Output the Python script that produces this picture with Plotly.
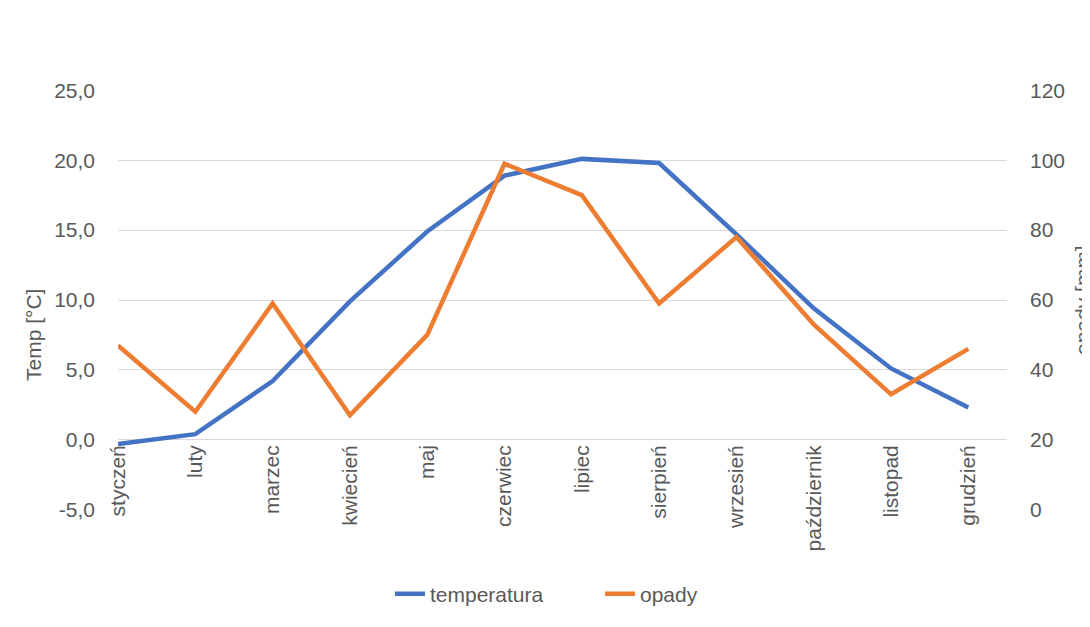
import plotly.graph_objects as go

months = ["styczeń", "luty", "marzec", "kwiecień", "maj", "czerwiec", "lipiec",
          "sierpień", "wrzesień", "październik", "listopad", "grudzień"]
temperatura = [-0.3, 0.4, 4.2, 9.9, 14.9, 18.9, 20.1, 19.8, 14.7, 9.4, 5.1, 2.3]
opady = [47, 28, 59, 27, 50, 99, 90, 59, 78, 53, 33, 46]
temp_ticks = [-5, 0, 5, 10, 15, 20, 25]
temp_ticktext = ["-5,0", "0,0", "5,0", "10,0", "15,0", "20,0", "25,0"]
opady_ticks = [0, 20, 40, 60, 80, 100, 120]

TXT = "#595959"
FONT = "Liberation Sans"
W, H = 1090, 627
OFF = 8  # page body margin
L, T = 118 - OFF, 90 - OFF
R, B = W - (1007 - OFF), H - (510 - OFF)
PW, PH = W - L - R, H - T - B


def px(xs):
    return (xs - OFF - L) / PW


def py(ys):
    return (T + PH - (ys - OFF)) / PH


fig = go.Figure()
fig.add_trace(go.Scatter(x=months, y=temperatura, name="temperatura", mode="lines",
                         line=dict(color="#4472C4", width=4.5), yaxis="y"))
fig.add_trace(go.Scatter(x=months, y=opady, name="opady", mode="lines",
                         line=dict(color="#ED7D31", width=4.5), yaxis="y2"))

fig.update_layout(
    width=W, height=H,
    margin=dict(l=L, r=R, t=T, b=B, autoexpand=False),
    paper_bgcolor="white", plot_bgcolor="white",
    separators=", ",
    font=dict(family=FONT, size=21, color=TXT),
    showlegend=True,
    legend=dict(orientation="h", x=px(600), xref="paper", xanchor="center",
                y=py(594), yanchor="middle", entrywidth=165, entrywidthmode="pixels",
                font=dict(size=21, color=TXT)),
    xaxis=dict(type="category", range=[0, 11.5], showgrid=False, zeroline=False,
               showline=False, tickangle=-90, anchor="free", position=1/6,
               ticks="", automargin=False, tickfont=dict(size=21, color=TXT)),
    yaxis=dict(range=[-5.03, 25.03], tickvals=temp_ticks, ticktext=temp_ticktext,
               showgrid=True, gridcolor="#D9D9D9", gridwidth=1.3, zeroline=False,
               showline=False, ticks="", ticklabelstandoff=22, automargin=False),
    yaxis2=dict(range=[-0.12, 120.12], tickvals=opady_ticks, overlaying="y",
                side="right", showgrid=False, zeroline=False, showline=False,
                ticks="", ticklabelstandoff=22, automargin=False),
    annotations=[
        dict(text="Temp [°C]", textangle=-90, xref="paper", yref="paper",
             x=px(33), y=py(335), xanchor="center", yanchor="middle",
             showarrow=False, font=dict(size=21, color=TXT)),
        dict(text="opady [mm]", textangle=-90, xref="paper", yref="paper",
             x=px(1082), y=py(300), xanchor="center", yanchor="middle",
             showarrow=False, font=dict(size=21, color=TXT)),
    ],
)

fig.write_html("out.html")
